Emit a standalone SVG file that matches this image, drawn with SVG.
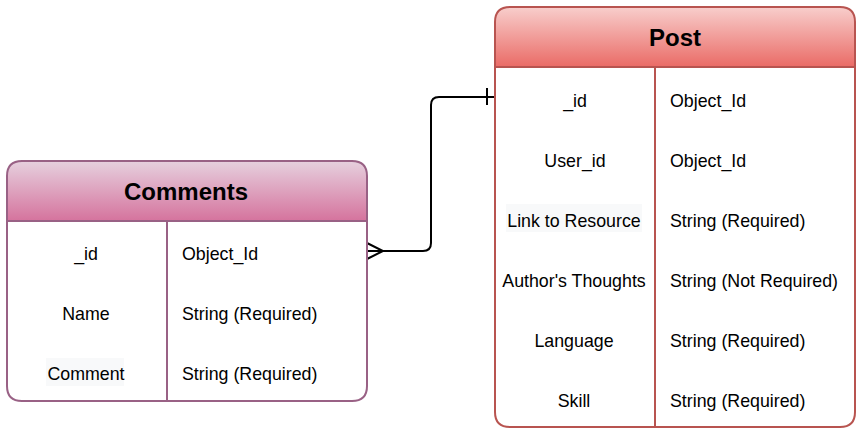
<svg xmlns="http://www.w3.org/2000/svg" width="862" height="432" viewBox="0 0 862 432">
  <defs>
    <linearGradient id="gPost" x1="0" y1="0" x2="0" y2="1">
      <stop offset="0" stop-color="#f8cecc"/>
      <stop offset="1" stop-color="#ea6b66"/>
    </linearGradient>
    <linearGradient id="gCom" x1="0" y1="0" x2="0" y2="1">
      <stop offset="0" stop-color="#e6d0de"/>
      <stop offset="1" stop-color="#d5739d"/>
    </linearGradient>
  </defs>
  <style>
    .title { font-family: "Liberation Sans", Arial, sans-serif; font-size: 24px; font-weight: bold; fill: #000; text-anchor: middle; }
    .cell { font-family: "Liberation Sans", Arial, sans-serif; font-size: 17.8px; fill: #000; }
    .mid { text-anchor: middle; }
    .post { stroke: #b85450; stroke-width: 2; }
    .com { stroke: #996185; stroke-width: 2; }
    .conn { fill: none; stroke: #000; stroke-width: 2; }
    .tbg { fill: #f8f9fa; }
  </style>

  <g id="connectors">
    <path class="conn" d="M367,251 H423 Q431,251 431,243 V105 Q431,97 439,97 H495"/>
    <path class="conn" d="M367,243 L383,251 L367,259"/>
    <path class="conn" d="M487,88 V105"/>
  </g>

  <g id="post">
    <path d="M495,67 V22 Q495,7 510,7 H840 Q855,7 855,22 V67 Z" fill="url(#gPost)"/>
    <path class="post" d="M495,22 Q495,7 510,7 H840 Q855,7 855,22 V412 Q855,427 840,427 H510 Q495,427 495,412 Z" fill="none"/>
    <line class="post" x1="495" y1="67" x2="855" y2="67"/>
    <line class="post" x1="655" y1="67" x2="655" y2="427"/>
    <text class="title" x="675" y="46">Post</text>
    <rect class="tbg" x="506" y="204" width="136" height="28"/>
    <text class="cell mid" x="575" y="106.5">_id</text>
    <text class="cell mid" x="575" y="166.5">User_id</text>
    <text class="cell mid" x="574" y="226.5">Link to Resource</text>
    <text class="cell mid" x="574" y="286.5">Author's Thoughts</text>
    <text class="cell mid" x="574" y="346.5">Language</text>
    <text class="cell mid" x="574" y="406.5">Skill</text>
    <text class="cell" x="670" y="106.5">Object_Id</text>
    <text class="cell" x="670" y="166.5">Object_Id</text>
    <text class="cell" x="670" y="226.5">String (Required)</text>
    <text class="cell" x="670" y="286.5">String (Not Required)</text>
    <text class="cell" x="670" y="346.5">String (Required)</text>
    <text class="cell" x="670" y="406.5">String (Required)</text>
  </g>

  <g id="comments">
    <path d="M7,221 V176 Q7,161 22,161 H352 Q367,161 367,176 V221 Z" fill="url(#gCom)"/>
    <path class="com" d="M7,176 Q7,161 22,161 H352 Q367,161 367,176 V386 Q367,401 352,401 H22 Q7,401 7,386 Z" fill="none"/>
    <line class="com" x1="7" y1="221" x2="367" y2="221"/>
    <line class="com" x1="167" y1="221" x2="167" y2="401"/>
    <text class="title" x="186" y="199.5">Comments</text>
    <rect class="tbg" x="46" y="358" width="78" height="28"/>
    <text class="cell mid" x="86" y="260">_id</text>
    <text class="cell mid" x="86" y="320">Name</text>
    <text class="cell mid" x="86" y="380">Comment</text>
    <text class="cell" x="182" y="260">Object_Id</text>
    <text class="cell" x="182" y="320">String (Required)</text>
    <text class="cell" x="182" y="380">String (Required)</text>
  </g>
</svg>
